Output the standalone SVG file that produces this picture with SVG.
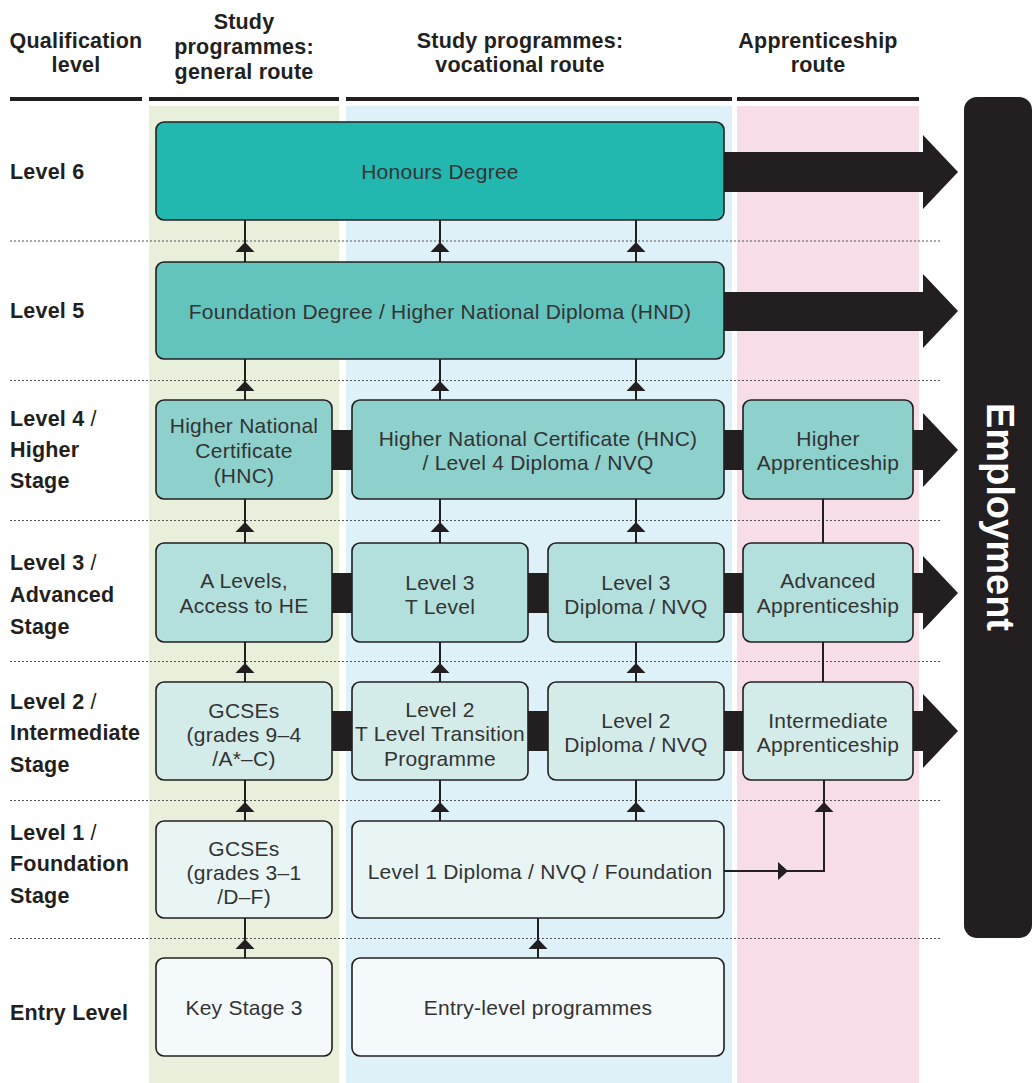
<svg xmlns="http://www.w3.org/2000/svg" width="1032" height="1083" viewBox="0 0 1032 1083">
<style>
.hd{font-family:"Liberation Sans",Arial,sans-serif;font-weight:bold;font-size:21.5px;letter-spacing:0.2px;fill:#231f20;text-anchor:middle}
.rl{font-family:"Liberation Sans",Arial,sans-serif;font-weight:bold;font-size:21.5px;letter-spacing:0.2px;fill:#231f20}
.sl{font-weight:normal}
.nt{font-family:"Liberation Sans",Arial,sans-serif;font-size:21px;letter-spacing:0.25px;fill:#333333;text-anchor:middle}
.box{stroke:#231f20;stroke-width:1.6}
.dot{stroke:#555;stroke-width:1;stroke-dasharray:2,2}
.ln{stroke:#231f20;stroke-width:2;fill:none}
.blk{fill:#231f20}
.c6{fill:#22b8b0}.c5{fill:#63c4be}.c4{fill:#8dd0cc}.c3{fill:#b3dfdc}.c2{fill:#d4ece9}.c1{fill:#e8f5f4}.c0{fill:#f4f9fb}
</style>
<defs>
<path id="ahu" d="M0,0 L9.5,10 L-9.5,10 Z" fill="#231f20"/>
<path id="ahr" d="M0,0 L-10,-9 L-10,9 Z" fill="#231f20"/>
</defs>
<!-- column backgrounds -->
<rect x="149" y="106" width="190" height="977" fill="#e8f0dc"/>
<rect x="346" y="106" width="386" height="977" fill="#def1f9"/>
<rect x="737" y="106" width="182" height="977" fill="#f6dde7"/>
<!-- header -->
<g id="headers">
<text class="hd" x="76" y="48">Qualification</text>
<text class="hd" x="76" y="72">level</text>
<text class="hd" x="244" y="29">Study</text>
<text class="hd" x="244" y="54">programmes:</text>
<text class="hd" x="244" y="79">general route</text>
<text class="hd" x="520" y="48">Study programmes:</text>
<text class="hd" x="520" y="72">vocational route</text>
<text class="hd" x="818" y="48">Apprenticeship</text>
<text class="hd" x="818" y="72">route</text>
<rect x="10" y="97" width="132" height="4" class="blk"/>
<rect x="149" y="97" width="190" height="4" class="blk"/>
<rect x="346" y="97" width="386" height="4" class="blk"/>
<rect x="737" y="97" width="182" height="4" class="blk"/>
</g>
<!-- row dividers -->
<g id="dividers">
<line class="dot" x1="10" y1="241" x2="940" y2="241"/>
<line class="dot" x1="10" y1="380.5" x2="940" y2="380.5"/>
<line class="dot" x1="10" y1="520.5" x2="940" y2="520.5"/>
<line class="dot" x1="10" y1="661.5" x2="940" y2="661.5"/>
<line class="dot" x1="10" y1="800.5" x2="940" y2="800.5"/>
<line class="dot" x1="10" y1="938.5" x2="940" y2="938.5"/>
</g>
<!-- row labels -->
<g id="row-labels">
<text class="rl" x="10" y="179">Level 6</text>
<text class="rl" x="10" y="318">Level 5</text>
<text class="rl" x="10" y="426">Level 4 <tspan class="sl">/</tspan></text>
<text class="rl" x="10" y="457">Higher</text>
<text class="rl" x="10" y="488">Stage</text>
<text class="rl" x="10" y="570">Level 3 <tspan class="sl">/</tspan></text>
<text class="rl" x="10" y="602">Advanced</text>
<text class="rl" x="10" y="634">Stage</text>
<text class="rl" x="10" y="709">Level 2 <tspan class="sl">/</tspan></text>
<text class="rl" x="10" y="740">Intermediate</text>
<text class="rl" x="10" y="772">Stage</text>
<text class="rl" x="10" y="840">Level 1 <tspan class="sl">/</tspan></text>
<text class="rl" x="10" y="871">Foundation</text>
<text class="rl" x="10" y="903">Stage</text>
<text class="rl" x="10" y="1020">Entry Level</text>
</g>
<!-- employment -->
<g id="employment">
<rect x="964" y="97" width="68" height="841" rx="13" class="blk"/>
<text x="1000" y="517" transform="rotate(90 1000 517)" font-family="'Liberation Sans',Arial,sans-serif" font-weight="bold" font-size="38" fill="#ffffff" text-anchor="middle" dominant-baseline="central">Employment</text>
</g>
<!-- connectors -->
<g id="connectors">
<!-- big arrows to employment -->
<polygon class="blk" points="720,152 923,152 923,135 958,172 923,209 923,192 720,192"/>
<polygon class="blk" points="720,292 923,292 923,274 958,311 923,348 923,331 720,331"/>
<polygon class="blk" points="910,430 923,430 923,413 958,450 923,487 923,470 910,470"/>
<polygon class="blk" points="910,573 923,573 923,556 958,593 923,630 923,613 910,613"/>
<polygon class="blk" points="910,711 923,711 923,694 958,731 923,768 923,751 910,751"/>
<!-- horizontal bars -->
<rect class="blk" x="330" y="430" width="24" height="40"/>
<rect class="blk" x="722" y="430" width="23" height="40"/>
<rect class="blk" x="330" y="573" width="24" height="40"/>
<rect class="blk" x="526" y="573" width="24" height="40"/>
<rect class="blk" x="722" y="573" width="23" height="40"/>
<rect class="blk" x="330" y="711" width="24" height="40"/>
<rect class="blk" x="526" y="711" width="24" height="40"/>
<rect class="blk" x="722" y="711" width="23" height="40"/>
<!-- vertical lines -->
<line class="ln" x1="245" y1="220" x2="245" y2="262"/>
<line class="ln" x1="440" y1="220" x2="440" y2="262"/>
<line class="ln" x1="636" y1="220" x2="636" y2="262"/>
<line class="ln" x1="245" y1="359" x2="245" y2="400"/>
<line class="ln" x1="440" y1="359" x2="440" y2="400"/>
<line class="ln" x1="636" y1="359" x2="636" y2="400"/>
<line class="ln" x1="245" y1="499" x2="245" y2="543"/>
<line class="ln" x1="440" y1="499" x2="440" y2="543"/>
<line class="ln" x1="636" y1="499" x2="636" y2="543"/>
<line class="ln" x1="245" y1="642" x2="245" y2="682"/>
<line class="ln" x1="440" y1="642" x2="440" y2="682"/>
<line class="ln" x1="636" y1="642" x2="636" y2="682"/>
<line class="ln" x1="245" y1="780" x2="245" y2="821"/>
<line class="ln" x1="440" y1="780" x2="440" y2="821"/>
<line class="ln" x1="636" y1="780" x2="636" y2="821"/>
<line class="ln" x1="245" y1="918" x2="245" y2="958"/>
<line class="ln" x1="538" y1="918" x2="538" y2="958"/>
<line class="ln" x1="823" y1="499" x2="823" y2="543"/>
<line class="ln" x1="823" y1="642" x2="823" y2="682"/>
<polyline class="ln" points="724,871 824,871 824,780"/>
<!-- arrowheads -->
<use href="#ahu" x="245" y="242"/>
<use href="#ahu" x="440" y="242"/>
<use href="#ahu" x="636" y="242"/>
<use href="#ahu" x="245" y="381"/>
<use href="#ahu" x="440" y="381"/>
<use href="#ahu" x="636" y="381"/>
<use href="#ahu" x="245" y="522"/>
<use href="#ahu" x="440" y="522"/>
<use href="#ahu" x="636" y="522"/>
<use href="#ahu" x="245" y="663"/>
<use href="#ahu" x="440" y="663"/>
<use href="#ahu" x="636" y="663"/>
<use href="#ahu" x="245" y="802"/>
<use href="#ahu" x="440" y="802"/>
<use href="#ahu" x="636" y="802"/>
<use href="#ahu" x="824" y="802"/>
<use href="#ahu" x="245" y="939"/>
<use href="#ahu" x="538" y="939"/>
<use href="#ahr" x="788" y="871"/>
</g>
<!-- nodes -->
<g id="n-honours"><rect class="box c6" x="156" y="122" width="568" height="98" rx="8"/><text class="nt" x="440" y="179">Honours Degree</text></g>
<g id="n-foundation-degree"><rect class="box c5" x="156" y="262" width="568" height="97" rx="8"/><text class="nt" x="440" y="319">Foundation Degree / Higher National Diploma (HND)</text></g>
<g id="n-hnc-general"><rect class="box c4" x="156" y="400" width="176" height="99" rx="8"/><text class="nt" x="244" y="433">Higher National</text><text class="nt" x="244" y="458">Certificate</text><text class="nt" x="244" y="483">(HNC)</text></g>
<g id="n-hnc-vocational"><rect class="box c4" x="352" y="400" width="372" height="99" rx="8"/><text class="nt" x="538" y="446">Higher National Certificate (HNC)</text><text class="nt" x="538" y="470">/ Level 4 Diploma / NVQ</text></g>
<g id="n-higher-app"><rect class="box c4" x="743" y="400" width="170" height="99" rx="8"/><text class="nt" x="828" y="446">Higher</text><text class="nt" x="828" y="470">Apprenticeship</text></g>
<g id="n-a-levels"><rect class="box c3" x="156" y="543" width="176" height="99" rx="8"/><text class="nt" x="244" y="588">A Levels,</text><text class="nt" x="244" y="613">Access to HE</text></g>
<g id="n-t-level"><rect class="box c3" x="352" y="543" width="176" height="99" rx="8"/><text class="nt" x="440" y="590">Level 3</text><text class="nt" x="440" y="614">T Level</text></g>
<g id="n-l3-diploma"><rect class="box c3" x="548" y="543" width="176" height="99" rx="8"/><text class="nt" x="636" y="590">Level 3</text><text class="nt" x="636" y="614">Diploma / NVQ</text></g>
<g id="n-advanced-app"><rect class="box c3" x="743" y="543" width="170" height="99" rx="8"/><text class="nt" x="828" y="588">Advanced</text><text class="nt" x="828" y="613">Apprenticeship</text></g>
<g id="n-gcse-94"><rect class="box c2" x="156" y="682" width="176" height="98" rx="8"/><text class="nt" x="244" y="718">GCSEs</text><text class="nt" x="244" y="742">(grades 9–4</text><text class="nt" x="244" y="766">/A*–C)</text></g>
<g id="n-t-transition"><rect class="box c2" x="352" y="682" width="176" height="98" rx="8"/><text class="nt" x="440" y="717">Level 2</text><text class="nt" x="440" y="741">T Level Transition</text><text class="nt" x="440" y="766">Programme</text></g>
<g id="n-l2-diploma"><rect class="box c2" x="548" y="682" width="176" height="98" rx="8"/><text class="nt" x="636" y="728">Level 2</text><text class="nt" x="636" y="752">Diploma / NVQ</text></g>
<g id="n-intermediate-app"><rect class="box c2" x="743" y="682" width="170" height="98" rx="8"/><text class="nt" x="828" y="728">Intermediate</text><text class="nt" x="828" y="752">Apprenticeship</text></g>
<g id="n-gcse-31"><rect class="box c1" x="156" y="821" width="176" height="97" rx="8"/><text class="nt" x="244" y="856">GCSEs</text><text class="nt" x="244" y="880">(grades 3–1</text><text class="nt" x="244" y="904">/D–F)</text></g>
<g id="n-l1-diploma"><rect class="box c1" x="352" y="821" width="372" height="97" rx="8"/><text class="nt" x="540" y="879">Level 1 Diploma / NVQ / Foundation</text></g>
<g id="n-ks3"><rect class="box c0" x="156" y="958" width="176" height="98" rx="8"/><text class="nt" x="244" y="1015">Key Stage 3</text></g>
<g id="n-entry"><rect class="box c0" x="352" y="958" width="372" height="98" rx="8"/><text class="nt" x="538" y="1015">Entry-level programmes</text></g>
</svg>
